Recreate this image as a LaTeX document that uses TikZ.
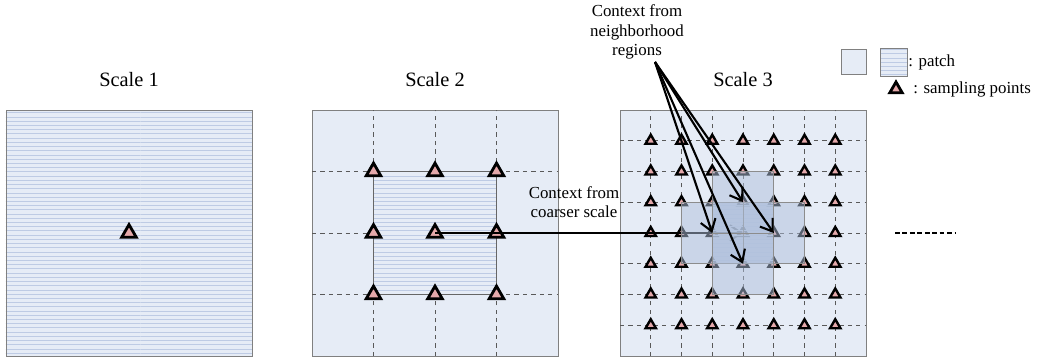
\documentclass[tikz,border=0pt]{standalone}
\usepackage{fontspec}
\setmainfont{Liberation Serif}
\usetikzlibrary{arrows.meta,shapes.geometric,patterns}
\definecolor{bgblue}{RGB}{230,236,246}
\definecolor{lineblue}{RGB}{190,203,228}
\definecolor{patchblue}{RGB}{175,192,220}
\definecolor{trired}{RGB}{228,168,170}
\tikzset{
  samp/.style={regular polygon,regular polygon sides=3,draw=black,fill=trired,line width=2pt,inner sep=0pt,minimum size=#1},
  samp/.default=0.42cm,
  boxline/.style={draw=black!50,line width=0.6pt},
  hatch/.style={pattern=horizontal lines,pattern color=lineblue},
  griddash/.style={dashed,draw=black!65,line width=0.5pt},
  patch/.style={draw=black!45,fill=patchblue,fill opacity=0.5,minimum size=1.5375cm,inner sep=0pt},
  lbl/.style={font=\fontsize{14.5}{17}\selectfont},
  ctx/.style={font=\fontsize{12}{14}\selectfont,align=center},
  arr/.style={line width=1.5pt,-{Straight Barb[length=8pt,width=11pt]}}
}
\begin{document}
\begin{tikzpicture}
\useasboundingbox (0,0) rectangle (25.975,8.95);
\def\s{6.15}

\fill[bgblue] (0.15,0.05) rectangle +(\s,\s);
\fill[hatch] (0.15,0.05) rectangle +(\s,\s);
\draw[boxline] (0.15,0.05) rectangle +(\s,\s);
\node[samp] (t1) at (0.15+\s/2,0.05+\s/2) {};
\node[lbl] (s1) at (0.15+\s/2,6.95) {Scale 1};

\draw[boxline,fill=bgblue] (7.8,0.05) rectangle +(\s,\s);
\foreach \k in {1,2,3}
{
    \draw[griddash] (7.8+\k*\s/4,0.05)--+(0,\s);
    \draw[griddash] (7.8,0.05+\k*\s/4)--+(\s,0);
}
\fill[bgblue] (7.8+\s/4,0.05+\s/4) rectangle +(\s/2,\s/2);
\fill[hatch] (7.8+\s/4,0.05+\s/4) rectangle +(\s/2,\s/2);
\draw[draw=black!60,line width=0.6pt] (7.8+\s/4,0.05+\s/4) rectangle +(\s/2,\s/2);
\foreach \i in {1,2,3}
  \foreach \j in {1,2,3}
    \node[samp] (t2-\i-\j) at (7.8+\i*\s/4,0.05+\j*\s/4) {};
\node[lbl] (s2) at (7.8+\s/2,6.95) {Scale 2};

\draw[boxline,fill=bgblue] (15.5,0.05) rectangle +(\s,\s);
\foreach \k in {1,...,7}
{
    \draw[griddash] (15.5+\k*\s/8,0.05)--+(0,\s);
    \draw[griddash] (15.5,0.05+\k*\s/8)--+(\s,0);
}
\foreach \i in {1,...,7}
  \foreach \j in {1,...,7}
    \node[samp=0.3cm,line width=1.7pt] (t3-\i-\j) at (15.5+\i*\s/8,0.05+\j*\s/8) {};
\node[lbl] (s3) at (15.5+\s/2,6.95) {Scale 3};

\draw[arr] (t2-2-2.center)--(t3-4-4.center);
\node[ctx] (cc) at (14.35,3.9) {Context from\\coarser scale};

\node[patch,postaction={hatch}] (pc) at (t3-4-4) {};
\node[patch] (pl) at (t3-3-4) {};
\node[patch] (pr) at (t3-5-4) {};
\node[patch] (pt) at (t3-4-5) {};
\node[patch] (pb) at (t3-4-3) {};

\node[ctx] (cn) at (15.925,8.15) {Context from\\neighborhood\\regions};
\coordinate (nb) at (16.375,7.4);
\foreach \p in {pl,pt,pr,pb}
    \draw[arr] (nb)--(\p.center);

\draw[line width=1.8pt,dash pattern=on 3.4pt off 1.9pt] (22.375,3.125)--(23.875,3.125);

\draw[boxline,fill=bgblue] (21.03,7.09) rectangle +(0.625,0.625);
\fill[bgblue] (22,7.05) rectangle +(0.675,0.7);
\fill[hatch] (22,7.05) rectangle +(0.675,0.7);
\draw[boxline] (22,7.05) rectangle +(0.675,0.7);
\node[ctx,anchor=west,inner sep=0pt] (lp) at (22.7,7.4) {: patch};
\node[samp=0.36cm] (lt) at (22.4,6.72) {};
\node[ctx,anchor=west,inner sep=0pt] (ls) at (22.825,6.72) {: sampling points};

\end{tikzpicture}
\end{document}
